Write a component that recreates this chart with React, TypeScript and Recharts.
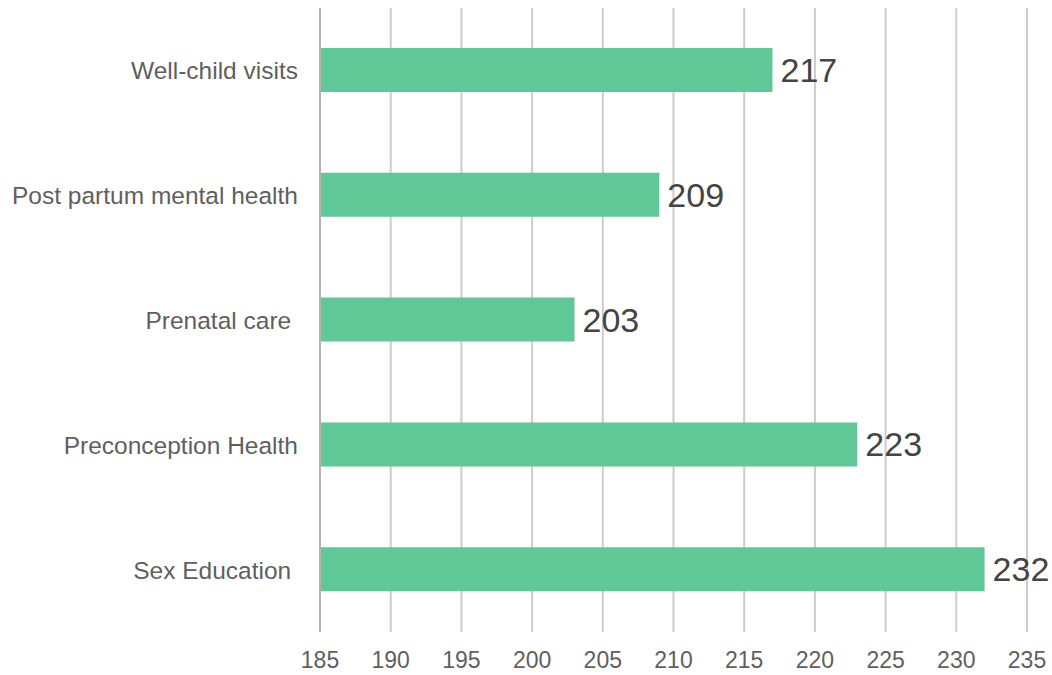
import { BarChart, Bar, XAxis, YAxis, CartesianGrid, LabelList } from "recharts";

const topics = [
  "Well-child visits",
  "Post partum mental health",
  "Prenatal care ",
  "Preconception Health",
  "Sex Education ",
];
const counts = [217, 209, 203, 223, 232];
const xTicks = [185, 190, 195, 200, 205, 210, 215, 220, 225, 230, 235];

const data = topics.map((name, i) => ({ name, value: counts[i] }));

// keeps the trailing space some labels have
const CategoryTick = ({ x, y, payload }: any) => (
  <text
    x={x}
    y={y}
    dy={9}
    textAnchor="end"
    fill="#5f5f5f"
    fontSize={24.5}
    style={{ whiteSpace: "pre" }}
  >
    {payload.value}
  </text>
);

export default function App() {
  return (
    <div
      style={{
        position: "absolute",
        top: 0,
        left: 0,
        width: 1052,
        height: 675,
        background: "#fff",
        fontFamily: "'Liberation Sans', Arial, sans-serif",
      }}
    >
      <BarChart
        width={1052}
        height={675}
        data={data}
        layout="vertical"
        margin={{ top: 8, right: 25, left: 0, bottom: 0 }}
      >
        <CartesianGrid horizontal={false} stroke="#cccccc" strokeWidth={2} />
        <XAxis
          type="number"
          domain={[185, 235]}
          ticks={xTicks}
          allowDataOverflow
          axisLine={false}
          tickLine={false}
          height={43}
          tick={{ fill: "#5f5f5f", fontSize: 23, dy: 12 }}
          interval={0}
        />
        <YAxis
          type="category"
          dataKey="name"
          width={320}
          axisLine={{ stroke: "#b3b3b3", strokeWidth: 2 }}
          tickLine={false}
          tick={<CategoryTick />}
          tickMargin={16}
        />
        <Bar dataKey="value" fill="#5fc896" barSize={44} isAnimationActive={false}>
          <LabelList
            dataKey="value"
            position="right"
            offset={8}
            fill="#444444"
            fontSize={34}
          />
        </Bar>
      </BarChart>
    </div>
  );
}
